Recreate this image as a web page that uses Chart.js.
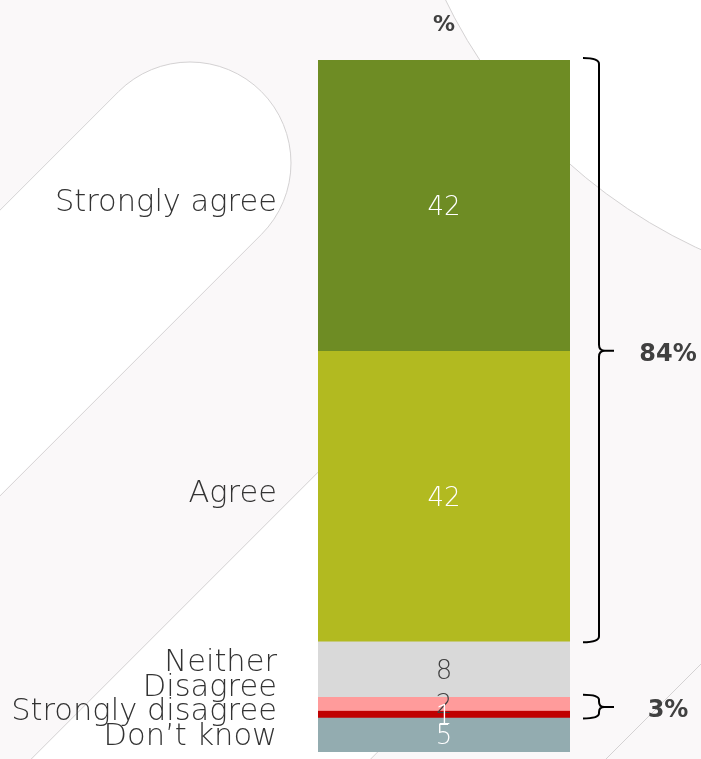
<!DOCTYPE html>
<html>
<head>
<meta charset="utf-8">
<script src="https://cdn.jsdelivr.net/npm/chart.js@4/dist/chart.umd.min.js"></script>
<style>
  html, body { margin: 0; padding: 0; background: #faf8f9; }
  #wrap { width: 701px; height: 759px; position: relative; }
</style>
</head>
<body>
<div id="wrap"><canvas id="agreeChart"></canvas></div>
<script>
'use strict';

// data
var categories = ['Strongly agree', 'Agree', 'Neither', 'Disagree', 'Strongly disagree', 'Don\u2019t know'];
var values = [42, 42, 8, 2, 1, 5];
var barColors = ['#6e8c24', '#b2ba20', '#d9d9d9', '#ff9b9b', '#c00000', '#93acb0'];
var valueColors = ['#ffffff', '#ffffff', '#404040', '#404040', '#ffffff', '#ffffff'];
// which segments each bracket groups together
var bracketGroups = [[0, 1], [3, 4]];
var unitLabel = '%';

var TEXT = '#404040';
var FONT = '"DejaVu Sans", sans-serif';

// ------------------------------------------------------- //
// faint background shapes
// ------------------------------------------------------ //
var backdrop = {
    id: 'backdrop',
    beforeDraw: function (chart) {
        var ctx = chart.ctx;
        ctx.save();
        ctx.fillStyle = '#faf8f9';
        ctx.fillRect(0, 0, chart.width, chart.height);

        ctx.fillStyle = '#ffffff';
        ctx.strokeStyle = '#d4d2d3';
        ctx.lineWidth = 1;

        // big circle top right
        ctx.beginPath();
        ctx.arc(922, -232, 530, 0, Math.PI * 2);
        ctx.fill();
        ctx.stroke();

        // pill shapes running to the lower left
        function pill(cx, cy, r) {
            var a = -Math.PI / 4;
            var dx = Math.cos(a + Math.PI), dy = Math.sin(a + Math.PI);
            var far = 1200;
            ctx.beginPath();
            ctx.arc(cx, cy, r, a - Math.PI / 2, a + Math.PI / 2);
            ctx.lineTo(cx + dx * far + Math.cos(a + Math.PI / 2) * r, cy + dy * far + Math.sin(a + Math.PI / 2) * r);
            ctx.lineTo(cx + dx * far + Math.cos(a - Math.PI / 2) * r, cy + dy * far + Math.sin(a - Math.PI / 2) * r);
            ctx.closePath();
            ctx.fill();
            ctx.stroke();
        }
        pill(190, 163, 101);
        pill(440, 520, 120);

        ctx.beginPath();
        ctx.moveTo(760, 605);
        ctx.lineTo(606, 759);
        ctx.stroke();
        ctx.restore();
    }
};

// ------------------------------------------------------- //
// labels, values and brackets
// ------------------------------------------------------ //
var annotate = {
    id: 'annotate',
    afterDatasetsDraw: function (chart) {
        var ctx = chart.ctx;
        var y = chart.scales.y;
        var area = chart.chartArea;
        var xMid = (area.left + area.right) / 2;

        var starts = [], ends = [], acc = 0;
        values.forEach(function (v) {
            starts.push(acc);
            acc += v;
            ends.push(acc);
        });

        ctx.save();
        ctx.textBaseline = 'middle';

        // values inside bar
        ctx.textAlign = 'center';
        ctx.font = '200 26px ' + FONT;
        values.forEach(function (v, i) {
            ctx.fillStyle = valueColors[i];
            ctx.fillText(String(v), xMid, y.getPixelForValue(starts[i] + v / 2) + 3);
        });

        // category labels on the left, pushed apart where they crowd
        var pos = values.map(function (v, i) { return y.getPixelForValue(starts[i] + v / 2) - 2; });
        var gap = 24.5;
        for (var k = 0; k < 60; k++) {
            for (var i = 0; i < pos.length - 1; i++) {
                var d = pos[i + 1] - pos[i];
                if (d < gap) {
                    var s = (gap - d) / 2;
                    pos[i] -= s;
                    pos[i + 1] += s;
                }
            }
        }
        ctx.textAlign = 'right';
        ctx.font = '200 30.5px ' + FONT;
        ctx.fillStyle = '#333333';
        categories.forEach(function (c, i) {
            ctx.fillText(c, area.left - 41, i < 2 ? pos[i] : pos[i] - 3);
        });

        // unit above bar
        ctx.fillStyle = TEXT;
        ctx.textAlign = 'center';
        ctx.font = 'bold 22px ' + FONT;
        ctx.fillText(unitLabel, xMid, 25);

        // curly brackets
        ctx.strokeStyle = '#000000';
        ctx.lineWidth = 2;
        bracketGroups.forEach(function (g) {
            var top = y.getPixelForValue(starts[g[0]]);
            var bot = y.getPixelForValue(ends[g[g.length - 1]]);
            var mid = (top + bot) / 2;
            var x0 = area.right + 13, x1 = area.right + 29, xt = area.right + 44;
            var r = Math.min(6, (bot - top) / 4);
            ctx.beginPath();
            ctx.moveTo(x0, top - 2);
            ctx.quadraticCurveTo(x1, top - 2, x1, top - 2 + r);
            ctx.lineTo(x1, mid - r);
            ctx.quadraticCurveTo(x1, mid, x1 + r, mid);
            ctx.lineTo(xt, mid);
            ctx.moveTo(x1 + r, mid);
            ctx.quadraticCurveTo(x1, mid, x1, mid + r);
            ctx.lineTo(x1, bot + 1 - r);
            ctx.quadraticCurveTo(x1, bot + 1, x0, bot + 1);
            ctx.stroke();

            var total = 0;
            g.forEach(function (j) { total += values[j]; });
            ctx.fillStyle = TEXT;
            ctx.font = 'bold 24px ' + FONT;
            ctx.textAlign = 'center';
            ctx.fillText(total + '%', 668, mid + 4);
        });
        ctx.restore();
    }
};

var datasets = categories.map(function (c, i) {
    return {
        label: c,
        data: [values[i]],
        backgroundColor: barColors[i],
        borderWidth: 0,
        barPercentage: 1,
        categoryPercentage: 1
    };
});

new Chart(document.getElementById('agreeChart'), {
    type: 'bar',
    data: {
        labels: [''],
        datasets: datasets
    },
    options: {
        responsive: true,
        maintainAspectRatio: false,
        animation: false,
        layout: { padding: { left: 318, right: 131, top: 60, bottom: 7 } },
        plugins: {
            legend: { display: false },
            tooltip: { enabled: false }
        },
        scales: {
            x: { stacked: true, display: false },
            y: { stacked: true, display: false, min: 0, max: 100, reverse: true }
        }
    },
    plugins: [backdrop, annotate]
});
</script>
</body>
</html>
